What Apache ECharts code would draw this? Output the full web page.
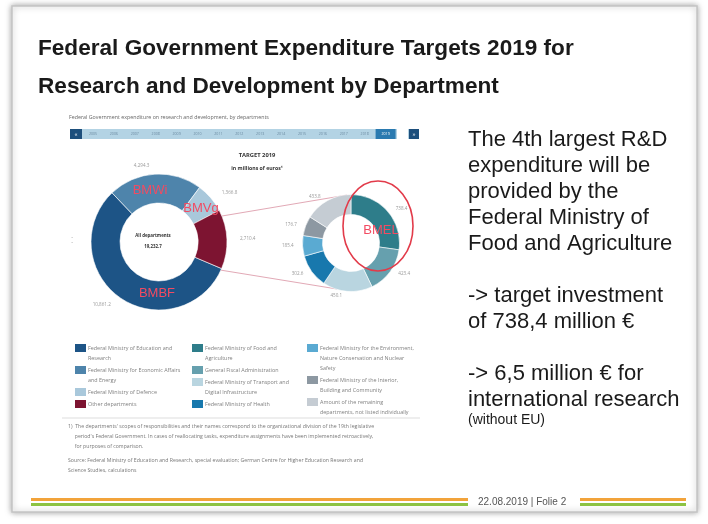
<!DOCTYPE html>
<html><head><meta charset="utf-8">
<script src="https://cdn.jsdelivr.net/npm/echarts@6/dist/echarts.min.js"></script>
<style>html,body{margin:0;padding:0;background:#fff}#c{width:708px;height:524px}</style>
</head><body><div id="c"></div>
<script>
const years = ['2005','2006','2007','2008','2009','2010','2011','2012','2013','2014','2015','2016','2017','2018','2019'];
const mainNames = ['Federal Ministry of Education and\nResearch','Federal Ministry for Economic Affairs\nand Energy','Federal Ministry of Defence','Other departments'];
const mainValues = [10861.2, 4294.3, 1366.8, 2710.4];
const otherNames = ['Federal Ministry of Food and\nAgriculture','General Fiscal Administration','Federal Ministry of Transport and\nDigital Infrastructure','Federal Ministry of Health','Federal Ministry for the Environment,\nNature Conservation and Nuclear\nSafety','Federal Ministry of the Interior,\nBuilding and Community','Amount of the remaining\ndepartments, not listed individually'];
const otherValues = [738.4, 423.4, 450.1, 302.6, 185.4, 176.7, 433.8];
const mainColors = ['#1d5486','#4e84ab','#a9c8db','#7d1431'];
const otherColors = ['#2e7d8a','#66a0ae','#b9d5e0','#1878ad','#5aaad2','#8d98a2','#c5ccd3'];
const rightText = ['The 4th largest R&D','expenditure will be','provided by the','Federal Ministry of','Food and Agriculture','','-> target investment','of 738,4 million €','','-> 6,5 million € for','international research'];

const fmt = v => v.toLocaleString('en-US',{minimumFractionDigits:1,maximumFractionDigits:1});
const total = mainValues.reduce((a,b)=>a+b,0);
const chart = echarts.init(document.getElementById('c'));
const SF = 'Liberation Sans, Arial, sans-serif';
const CF = 'Open Sans, Noto Sans, sans-serif';

const g = [];
g.push({type:'rect',shape:{x:12,y:6,width:685,height:506},style:{fill:'#fff',stroke:'#c4c4c4',lineWidth:1.5,shadowBlur:6,shadowColor:'rgba(0,0,0,0.35)'},z:-10});
g.push({type:'text',left:38,top:37,style:{text:'Federal Government Expenditure Targets 2019 for',font:'bold 22.6px '+SF,fill:'#1a1a1a'}});
g.push({type:'text',left:38,top:75,style:{text:'Research and Development by Department',font:'bold 22.6px '+SF,fill:'#1a1a1a'}});
g.push({type:'text',left:69,top:115,style:{text:'Federal Government expenditure on research and development, by departments',font:'5.3px '+CF,fill:'#666'}});
g.push({type:'rect',shape:{x:70,y:129,width:348,height:10},style:{fill:'#b3d3e4'}});
g.push({type:'rect',shape:{x:70,y:129,width:12,height:10},style:{fill:'#1d4f7c'}});
g.push({type:'rect',shape:{x:397,y:129,width:11,height:10},style:{fill:'#fff'}});
g.push({type:'rect',shape:{x:409,y:129,width:10,height:10},style:{fill:'#1d4f7c'}});
g.push({type:'text',x:76,y:134,style:{text:'«',font:'6px '+CF,fill:'#fff',textAlign:'center',textVerticalAlign:'middle'}});
g.push({type:'text',x:414,y:134,style:{text:'»',font:'6px '+CF,fill:'#fff',textAlign:'center',textVerticalAlign:'middle'}});
years.forEach((y,i)=>{
  const cx = 93 + i*20.9;
  if (i===years.length-1) g.push({type:'rect',shape:{x:cx-10,y:129,width:20,height:10},style:{fill:'#2a7ab0'}});
  g.push({type:'text',x:cx,y:134,style:{text:y,font:'3.6px '+CF,fill:i===years.length-1?'#fff':'#6a8aa0',textAlign:'center',textVerticalAlign:'middle'}});
});
g.push({type:'text',x:72,y:241,style:{text:'•\n•',font:'3px '+CF,fill:'#888',lineHeight:5,textAlign:'center',textVerticalAlign:'middle'}});
g.push({type:'text',x:257,y:155,style:{text:'TARGET 2019',font:'bold 5.8px '+CF,fill:'#333',textAlign:'center',textVerticalAlign:'middle'}});
g.push({type:'text',x:257,y:169,style:{text:'in millions of euros¹',font:'bold 5.2px '+CF,fill:'#333',textAlign:'center',textVerticalAlign:'middle'}});
g.push({type:'text',x:153,y:236,style:{text:'All departments',font:'bold 4.4px '+CF,fill:'#333',textAlign:'center',textVerticalAlign:'middle'}});
g.push({type:'text',x:153,y:247,style:{text:fmt(total),font:'bold 4.4px '+CF,fill:'#333',textAlign:'center',textVerticalAlign:'middle'}});
g.push({type:'line',shape:{x1:222,y1:216,x2:347,y2:195},style:{stroke:'#e2a9b6',lineWidth:1}});
g.push({type:'line',shape:{x1:220,y1:270,x2:337,y2:289},style:{stroke:'#e2a9b6',lineWidth:1}});

g.push({type:'ellipse',z:100,zlevel:1,shape:{cx:378,cy:226,rx:35,ry:45},style:{fill:'none',stroke:'#e23b4a',lineWidth:1.6}});
const red = {font:'13px '+SF,fill:'#f24b62',textAlign:'center',textVerticalAlign:'middle'};
[['BMWi',150,190],['BMVg',201,208],['BMBF',157,293],['BMEL',381,230]].forEach(r=>{
  g.push({type:'text',z:100,zlevel:1,x:r[1],y:r[2],style:Object.assign({text:r[0]},red)});
});

const legendCols = [
  {ix:75, names:mainNames, colors:mainColors},
  {ix:192, names:otherNames.slice(0,4), colors:otherColors.slice(0,4)},
  {ix:307, names:otherNames.slice(4), colors:otherColors.slice(4)}
];
legendCols.forEach(col=>{
  let y = 348;
  col.names.forEach((n,i)=>{
    g.push({type:'rect',shape:{x:col.ix,y:y-4,width:11,height:8},style:{fill:col.colors[i]}});
    g.push({type:'text',x:col.ix+13,y:y-5,style:{text:n,font:'5.4px '+CF,fill:'#808080',lineHeight:10,textVerticalAlign:'top'}});
    y += n.split('\n').length*10 + 2;
  });
});
g.push({type:'line',shape:{x1:62,y1:418,x2:420,y2:418},style:{stroke:'#ddd',lineWidth:1}});
g.push({type:'text',left:68,top:422,style:{text:"1)  The departments' scopes of responsibilities and their names correspond to the organizational division of the 19th legislative\n     period's Federal Government. In cases of reallocating tasks, expenditure assignments have been implemented retroactively,\n     for purposes of comparison.",font:'5.2px '+CF,fill:'#777',lineHeight:10}});
g.push({type:'text',left:68,top:456,style:{text:'Source: Federal Ministry of Education and Research, special evaluation; German Centre for Higher Education Research and\nScience Studies, calculations',font:'5.2px '+CF,fill:'#777',lineHeight:10}});
g.push({type:'text',left:468,top:127,style:{text:rightText.join('\n'),font:'22px '+SF,fill:'#1a1a1a',lineHeight:26}});
g.push({type:'text',left:468,top:413,style:{text:'(without EU)',font:'14px '+SF,fill:'#1a1a1a'}});
g.push({type:'rect',shape:{x:31,y:498,width:437,height:3},style:{fill:'#f2a33a'}});
g.push({type:'rect',shape:{x:31,y:503,width:437,height:3},style:{fill:'#8dc343'}});
g.push({type:'rect',shape:{x:580,y:498,width:106,height:3},style:{fill:'#f2a33a'}});
g.push({type:'rect',shape:{x:580,y:503,width:106,height:3},style:{fill:'#8dc343'}});
g.push({type:'text',left:478,top:497,style:{text:'22.08.2019 | Folie 2',font:'10px '+SF,fill:'#555'}});

const labelBase = {show:true,position:'outside',fontSize:4.6,color:'#999',fontFamily:CF,formatter:p=>fmt(p.value)};

chart.setOption({
  animation:false,
  graphic:g,
  series:[
    {type:'pie',center:[159,242],radius:[39,68],startAngle:-23,clockwise:true,silent:true,
     itemStyle:{borderColor:'#fff',borderWidth:0.6},
     label:labelBase,labelLine:{show:false,length:8,length2:0},
     data:mainNames.map((n,i)=>({name:n,value:mainValues[i],itemStyle:{color:mainColors[i]}}))},
    {type:'pie',center:[351,243],radius:[28.5,48.5],startAngle:90,clockwise:true,silent:true,
     itemStyle:{borderColor:'#fff',borderWidth:0.6},
     label:labelBase,labelLine:{show:false,length:4,length2:0},
     data:otherNames.map((n,i)=>({name:n,value:otherValues[i],itemStyle:{color:otherColors[i]}}))}
  ]
});
</script></body></html>
